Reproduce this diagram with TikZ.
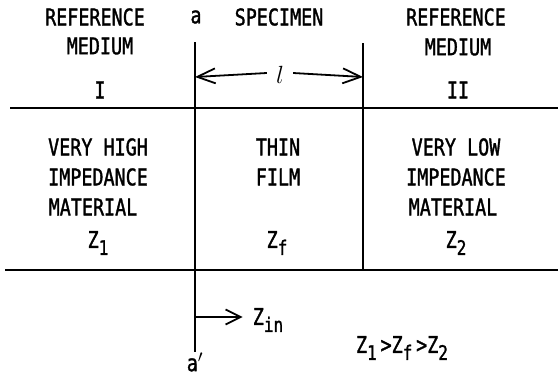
\documentclass[tikz,border=0pt]{standalone}
\usepackage{fontspec}
\newfontfamily\leroy[FakeStretch=0.8, FakeBold=1.4]{DejaVu Sans Mono}
\usetikzlibrary{arrows.meta, positioning}

\newcommand{\zsub}[1]{Z\raisebox{-7pt}{\fontsize{20}{22}\selectfont #1}}

\tikzset{
  lbl/.style={font=\leroy\fontsize{23}{26}\selectfont, inner sep=1pt},
  wall/.style={line width=2.4pt},
  len/.style={line width=1.8pt, -{Straight Barb[length=18pt,width=15pt,line width=1.8pt]}}
}

\begin{document}
\begin{tikzpicture}[x=1pt,y=-1pt]
  \useasboundingbox (0,0) rectangle (558,378);
  % boundaries
  \coordinate (topL) at (10,108);
  \coordinate (topR) at (558,108);
  \coordinate (botL) at (5,270);
  \coordinate (botR) at (558,270);
  \coordinate (aTop) at (195,42);
  \coordinate (aBot) at (195,352);
  \coordinate (bTop) at (363,43);
  \coordinate (bBot) at (363,270);
  \draw[wall] (topL) -- (topR);
  \draw[wall] (botL) -- (botR);
  \draw[line width=2pt] (aTop) -- (aBot);
  \draw[line width=2pt] (bTop) -- (bBot);
  % top row
  \node[lbl] (refL) at (95,17) {REFERENCE};
  \node[lbl] (medL) at (100,46) {MEDIUM};
  \node[lbl] (oneL) at (100,90) {I};
  \node[lbl] (a) at (196,17) {a};
  \node[lbl] (spec) at (279,17) {SPECIMEN};
  \node[lbl] (refR) at (456,17) {REFERENCE};
  \node[lbl] (medR) at (458,47) {MEDIUM};
  \node[lbl] (twoR) at (458,90) {II};
  % thickness l
  \node[lbl, font=\fontsize{25}{28}\selectfont] (l) at (280,75) {$l$};
  \coordinate (la) at (195,77);
  \coordinate (lb) at (363,77);
  \draw[len] (l.west) ++(-8pt,2pt) coordinate (l1) -- (la);
  \draw[len] (l.east) ++(8pt,2pt) coordinate (l2) -- (lb);
  % middle row
  \node[lbl] (hi1) at (98,147) {VERY HIGH};
  \node[lbl] (hi2) at (98,177) {IMPEDANCE};
  \node[lbl] (hi3) at (93,207) {MATERIAL};
  \node[lbl] (z1) at (98,243) {\zsub{1}};
  \node[lbl] (fi1) at (278,147) {THIN};
  \node[lbl] (fi2) at (278,177) {FILM};
  \node[lbl] (zf) at (277,243) {\zsub{f}};
  \node[lbl] (lo1) at (456,147) {VERY LOW};
  \node[lbl] (lo2) at (456,177) {IMPEDANCE};
  \node[lbl] (lo3) at (453,207) {MATERIAL};
  \node[lbl] (z2) at (456,243) {\zsub{2}};
  % input impedance
  \node[lbl] (zin) at (268,320) {\zsub{in}};
  \coordinate (zinA) at (195,317);
  \draw[len, -{Straight Barb[length=15pt,width=15pt,line width=1.8pt]}, shorten >=9pt] (zinA) -- (zin.west |- zinA);
  \node[lbl] (ap) at (195,362) {a$'$};
  \node[lbl] (rel) at (402,348) {\zsub{1}\,>\zsub{f}\,>\zsub{2}};
\end{tikzpicture}
\end{document}
